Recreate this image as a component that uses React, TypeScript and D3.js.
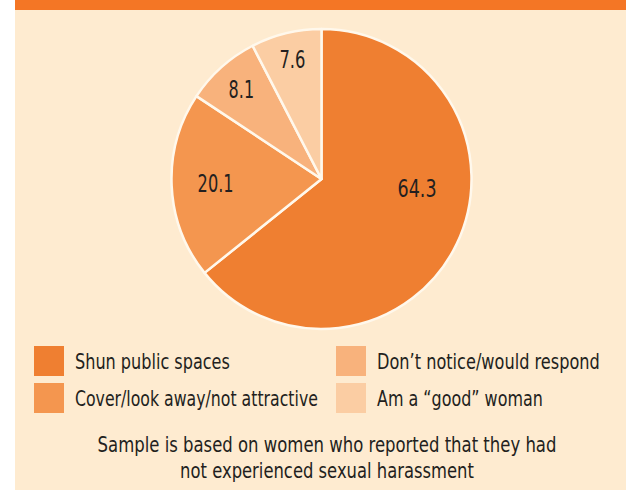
import * as d3 from "d3";

// slice values, in the order they are drawn clockwise from 12 o'clock
const categories = [
  "Shun public spaces",
  "Cover/look away/not attractive",
  "Don\u2019t notice/would respond",
  "Am a \u201cgood\u201d woman",
];
const values = [64.3, 20.1, 8.1, 7.6];
const colors = ["#EF7F31", "#F4964F", "#F8B27C", "#FBCDA3"];
const footnote = [
  "Sample is based on women who reported that they had",
  "not experienced sexual harassment",
];

const W = 626, H = 491;
const FONT = "'DejaVu Sans', sans-serif";
const INK = "#231F20";

const cx = 321.5, cy = 179, R = 150;
// label distance from centre, per slice (main slice sits higher than its mid-angle)
const labelR = [96, 106, 120, 123];
const labelAngleShift = [-0.35, 0, 0, 0];

// the original face is a condensed one; squeeze DejaVu to the same run lengths
const labelLen = [39, 36, 25.5, 26];
const legendLen = [155, 243, 223, 166];
const footLen = [459, 294];

const ctx = document.createElement("canvas").getContext("2d");
function squeeze(t: string, size: number, target: number) {
  if (!ctx) return 0.78;
  ctx.font = `${size}px 'DejaVu Sans'`;
  return target / ctx.measureText(t).width;
}

export default function App() {
  const slices = d3.pie<number>().sort(null)(values);
  const arc = d3.arc<d3.PieArcDatum<number>>().innerRadius(0).outerRadius(R);

  // legend: two columns, two rows, filled row by row
  const legendOrder = [0, 2, 1, 3];
  const colX = d3.scaleOrdinal<number, number>().domain([0, 1]).range([34, 336]);
  const rowY = d3.scaleOrdinal<number, number>().domain([0, 1]).range([346, 383]);

  return (
    <svg width={W} height={H} style={{ position: "absolute", left: 0, top: 0 }}>
      <rect x={15} y={0} width={W - 15} height={490} fill="#FEEBD0" />
      <rect x={15} y={0} width={W - 15} height={10} fill="#F47625" />

      <g transform={`translate(${cx},${cy})`}>
        {slices.map((s, i) => (
          <path key={i} d={arc(s) || ""} fill={colors[i]} stroke="#FFF8EC" strokeWidth={2.5} strokeLinejoin="round" />
        ))}
        {slices.map((s, i) => {
          const a = (s.startAngle + s.endAngle) / 2 + labelAngleShift[i];
          const x = Math.sin(a) * labelR[i];
          const y = -Math.cos(a) * labelR[i];
          const t = d3.format(".1f")(values[i]);
          const k = squeeze(t, 24, labelLen[i]);
          return (
            <text key={i} transform={`translate(${x},${y}) scale(${k},1)`} dy="0.36em" textAnchor="middle"
              fontSize={24} fontFamily={FONT} fill={INK}>
              {t}
            </text>
          );
        })}
      </g>

      {legendOrder.map((ci, k) => {
        const x = colX(k % 2);
        const y = rowY(Math.floor(k / 2));
        const sx = squeeze(categories[ci], 21, legendLen[ci]);
        return (
          <g key={ci}>
            <rect x={x} y={y} width={30} height={30} fill={colors[ci]} />
            <text transform={`translate(${x + 41},${y + 23}) scale(${sx},1)`} fontSize={21} fontFamily={FONT} fill={INK}>
              {categories[ci]}
            </text>
          </g>
        );
      })}

      {footnote.map((t, i) => (
        <text key={i} transform={`translate(327,${452 + i * 25.5}) scale(${squeeze(t, 20.5, footLen[i])},1)`}
          textAnchor="middle" fontSize={20.5} fontFamily={FONT} fill={INK}>
          {t}
        </text>
      ))}
    </svg>
  );
}
